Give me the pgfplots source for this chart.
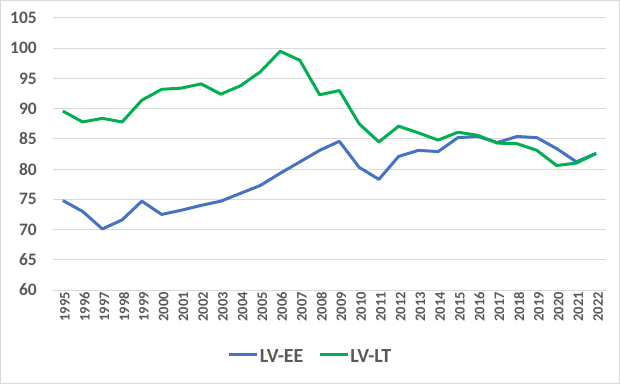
\documentclass[border=0pt]{standalone}
\usepackage{fontspec}
\setmainfont{Carlito}
\usepackage{pgfplots}
\pgfplotsset{compat=1.18}
\definecolor{lvee}{HTML}{4472C4}
\definecolor{lvlt}{HTML}{00B050}
\definecolor{txt}{HTML}{595959}
\definecolor{gridc}{HTML}{D9D9D9}
\begin{document}
\begin{tikzpicture}
\useasboundingbox (0,0) rectangle (620bp,384bp);
\draw[gridc, line width=1bp] (0.5bp,0.5bp) rectangle (619.5bp,383.5bp);
\begin{axis}[
  at={(53bp,94bp)}, anchor=south west,
  scale only axis, width=553bp, height=272bp,
  xmin=1994.5, xmax=2022.5, ymin=60, ymax=105,
  xtick={1995,...,2022}, ytick={60,65,...,105},
  axis line style={draw=none},
  major tick length=0pt,
  ymajorgrids, grid style={gridc, line width=1bp},
  /pgf/number format/assume math mode=true,
  /pgf/number format/1000 sep={},
  tick label style={text=txt},
  x tick label style={font=\fontsize{14.5bp}{17bp}\selectfont\bfseries, rotate=90, anchor=east, inner sep=2bp, yshift=-2bp},
  y tick label style={font=\fontsize{17.5bp}{20bp}\selectfont\bfseries, inner sep=0bp, xshift=-16bp},
  legend style={at={(0.465,-0.246)}, anchor=center, draw=none, fill=none,
    legend columns=2, font=\fontsize{20bp}{23bp}\selectfont\bfseries, text=txt,
    nodes={inner sep=1bp},
    /tikz/every even column/.append style={column sep=14bp}},
  legend image code/.code={\draw[#1] (0bp,2bp) -- (28bp,2bp);},
  every axis plot/.append style={line width=3bp, line join=round},
]
\draw[gridc, line width=1bp] (axis cs:1994.5,60) -- (axis cs:2022.5,60);
\addplot[lvee, mark=none] coordinates {
(1995,74.8) (1996,73.0) (1997,70.1) (1998,71.6) (1999,74.7) (2000,72.5)
(2001,73.2) (2002,74.0) (2003,74.7) (2004,76.0) (2005,77.3) (2006,79.3)
(2007,81.2) (2008,83.1) (2009,84.6) (2010,80.3) (2011,78.3) (2012,82.1)
(2013,83.1) (2014,82.9) (2015,85.2) (2016,85.4) (2017,84.4) (2018,85.4)
(2019,85.2) (2020,83.4) (2021,81.2) (2022,82.6)};
\addlegendentry{LV-EE}
\addplot[lvlt, mark=none] coordinates {
(1995,89.6) (1996,87.8) (1997,88.4) (1998,87.8) (1999,91.4) (2000,93.2)
(2001,93.4) (2002,94.1) (2003,92.4) (2004,93.8) (2005,96.1) (2006,99.5)
(2007,98.0) (2008,92.3) (2009,93.0) (2010,87.5) (2011,84.5) (2012,87.1)
(2013,86.0) (2014,84.8) (2015,86.1) (2016,85.6) (2017,84.3) (2018,84.2)
(2019,83.1) (2020,80.6) (2021,81.0) (2022,82.6)};
\addlegendentry{LV-LT}
\end{axis}
\end{tikzpicture}
\end{document}
